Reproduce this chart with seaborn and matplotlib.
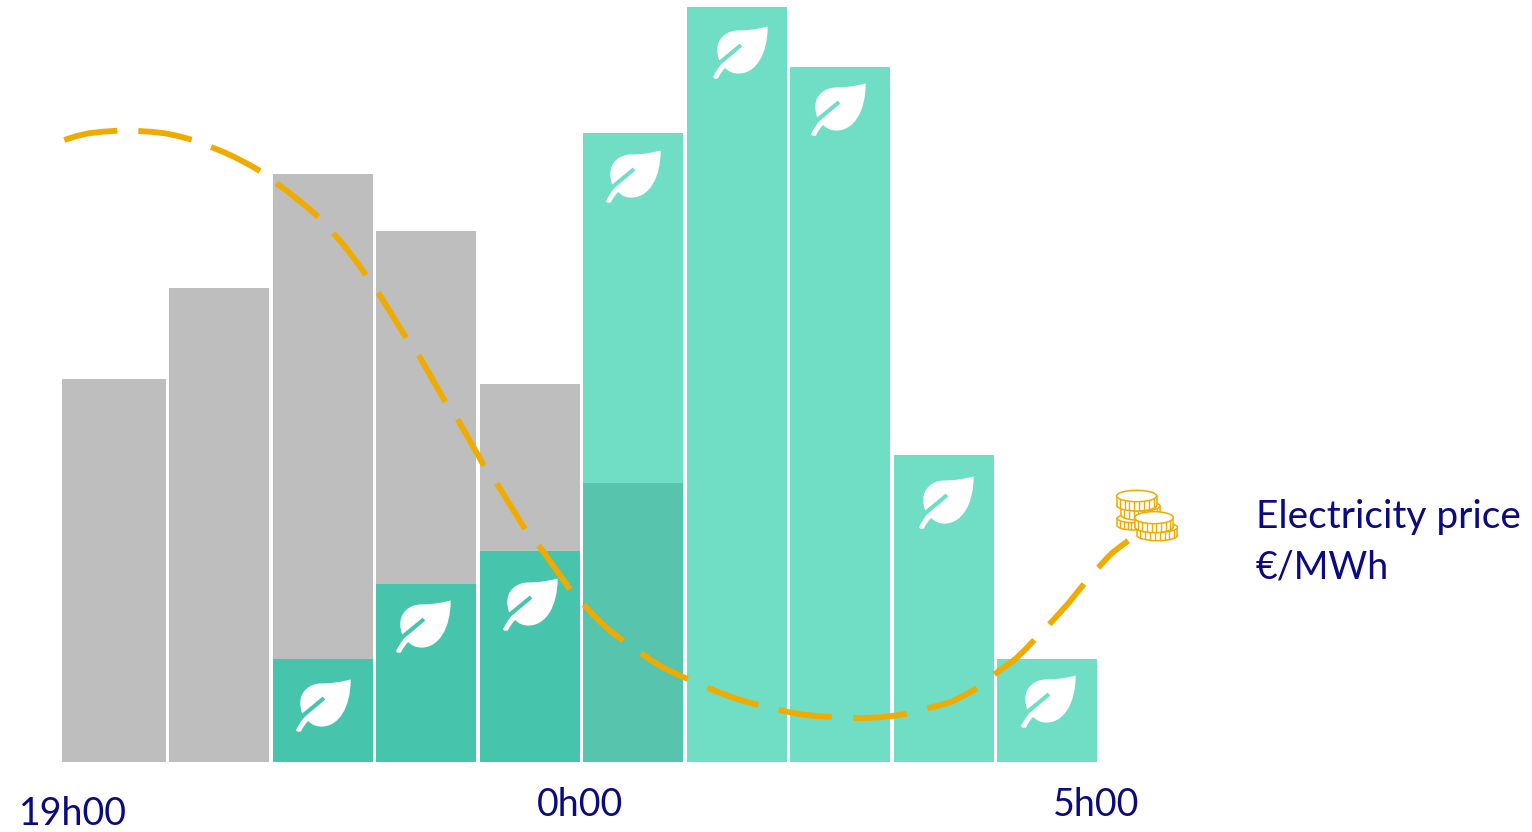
import numpy as np
import pandas as pd
import matplotlib
matplotlib.use("Agg")
import matplotlib.pyplot as plt
from matplotlib.path import Path
from matplotlib.patches import Ellipse, Rectangle
from matplotlib.transforms import Affine2D
import seaborn as sns

# ---- data -------------------------------------------------------------
slot_hours = [0.5, 1.5, 2.5, 3.5, 4.5, 5.5, 6.5, 7.5, 8.5, 9.5]
total_load = [383, 474, 588, 531, 378, 629, 755, 695, 307, 103]
renewable_load = [103, 178, 211, 279]          # slots 2..5, under the cap

tick_hours = [0.087, 4.99, 9.97]
tick_labels = ["19h00", "0h00", "5h00"]

leaf_hours = [2.500, 3.467, 4.507, 5.493, 6.527, 7.483, 8.517, 9.512]
leaf_levels = [57.3, 136, 157.6, 586.5, 710, 653, 260.5, 61.5]

price_hours = [
    [0.003, 0.116, 0.235, 0.377, 0.515],
    [0.718, 0.845, 0.976, 1.106, 1.234],
    [1.421, 1.536, 1.652, 1.773, 1.894],
    [2.052, 2.159, 2.264, 2.362, 2.457],
    [2.602, 2.686, 2.764, 2.841, 2.915],
    [3.037, 3.305],
    [3.427, 3.684],
    [3.804, 4.058],
    [4.181, 4.454],
    [4.587, 4.889],
    [5.024, 5.106, 5.195, 5.295, 5.404],
    [5.575, 5.681, 5.791, 5.908, 6.026],
    [6.216, 6.341, 6.467, 6.586, 6.708],
    [6.906, 7.024, 7.143, 7.280, 7.418],
    [7.626, 7.756, 7.884, 8.012, 8.142],
    [8.341, 8.459, 8.577, 8.698, 8.819],
    [8.989, 9.087, 9.189, 9.283, 9.375],
    [9.520, 9.611, 9.704, 9.778, 9.855],
    [9.993, 10.058, 10.123, 10.203, 10.283],
]
price_levels = [
    [622, 625.8, 628.7, 630.3, 631.3],
    [631, 630.2, 628.7, 625.9, 622.3],
    [615, 610.2, 604.7, 598.2, 591],
    [578.7, 570.7, 562, 553.8, 545],
    [528.7, 519, 508.7, 498.2, 487],
    [469.3, 424.3],
    [406.7, 360.3],
    [342.7, 296.3],
    [278.7, 233],
    [216.7, 172.7],
    [157.3, 147.8, 138.7, 129.6, 121.3],
    [108.7, 101.3, 94.3, 88.4, 83],
    [74.3, 69.1, 64.3, 60.5, 57],
    [52, 49.5, 47.3, 45.9, 45],
    [44, 44.1, 44.7, 46.2, 48.3],
    [53.7, 56.7, 60.3, 66.5, 73.7],
    [87.7, 95, 102.7, 112, 122],
    [137.7, 148, 158.7, 168.2, 178],
    [194.3, 201.7, 208.7, 215.2, 221.3],
]

GREY, TEAL, LIGHT, OVERLAP = "#BEBEBE", "#47C5AC", "#70DDC5", "#57C4AD"
ORANGE, NAVY = "#F0AB00", "#0B0A80"

# ---- figure -----------------------------------------------------------
sns.set_theme(style="white")
plt.rcParams["font.family"] = ["Lato", "DejaVu Sans"]

fig = plt.figure(figsize=(15.32, 8.32), dpi=100, facecolor="white")
ax = fig.add_axes([0, 70 / 832, 1, 762 / 832])

layers = [
    (slot_hours[:5], total_load[:5], GREY),
    (slot_hours[5:], total_load[5:], LIGHT),
    (slot_hours[2:5], renewable_load[:3], TEAL),
    (slot_hours[5:6], renewable_load[3:], OVERLAP),
]
for xs, ys, colour in layers:
    sns.barplot(x=xs, y=ys, native_scale=True, color=colour, width=0.97,
                saturation=1, linewidth=0, errorbar=None, ax=ax)
# the first block starts slightly further left than the regular grid
ax.patches[0].set_x(ax.patches[0].get_x() - 0.035)
ax.patches[0].set_width(ax.patches[0].get_width() + 0.035)

# leaf icon as a custom marker (crop units, y pointing down, then flipped)
lv = [(241, 355),
      (205, 364), (180, 367), (150, 367),
      (115, 368), (88, 392), (88, 425),
      (88, 438), (90, 449), (94, 458),
      (156, 407), (164, 416), (102, 468),
      (92, 478), (82, 494), (75, 509),
      (80, 514), (90, 513),
      (96, 500), (103, 490), (112, 481),
      (122, 492), (136, 498), (152, 498),
      (205, 498), (241, 440), (241, 355),
      (241, 355)]
lc = ([Path.MOVETO] + [Path.CURVE4] * 9 + [Path.LINETO] * 3 + [Path.CURVE4] * 3
      + [Path.LINETO] * 2 + [Path.CURVE4] * 9 + [Path.CLOSEPOLY])
lv = np.array(lv, float)
lv = np.column_stack([lv[:, 0] - 158.5, 434 - lv[:, 1]])
leaf = Path(lv, lc)
sns.scatterplot(x=leaf_hours, y=leaf_levels, marker=leaf, s=1568, color="white",
                linewidth=0, zorder=3, legend=False, ax=ax)

# dashed price curve: every dash is one unit of the line
price = pd.DataFrame({
    "hour": np.concatenate(price_hours),
    "price": np.concatenate(price_levels),
    "dash": np.repeat(np.arange(len(price_hours)), [len(d) for d in price_hours]),
})
sns.lineplot(data=price, x="hour", y="price", units="dash", estimator=None,
             sort=False, color=ORANGE, linewidth=4.2, solid_capstyle="butt",
             solid_joinstyle="round", zorder=4, legend=False, ax=ax)

# coin icon, drawn in zoomed-crop units
coin_tf = Affine2D().scale(1 / 3, -1 / 3).translate(1090, 832 - 470)
coins = [(130, 145, 48, 13, 22), (152, 108, 58, 15, 28), (140, 78, 60, 17, 28),
         (202, 172, 60, 15, 25), (192, 143, 58, 18, 27)]
for z, (cx, cy, rx, ry, h) in enumerate(coins):
    zo = 5 + z
    ax.add_patch(Ellipse((cx, cy + h), 2 * rx, 2 * ry, fc="white", ec=ORANGE, lw=1.1,
                         transform=coin_tf, zorder=zo))
    ax.add_patch(Rectangle((cx - rx, cy), 2 * rx, h, fc="white", ec="none",
                           transform=coin_tf, zorder=zo))
    for sx in (-rx, rx):
        ax.plot([cx + sx, cx + sx], [cy, cy + h], color=ORANGE, lw=1.1,
                transform=coin_tf, zorder=zo, scalex=False, scaley=False)
    for t in np.linspace(-0.85, 0.85, 8):
        off = ry * np.sqrt(1 - t * t)
        ax.plot([cx + t * rx] * 2, [cy + off, cy + off + h - 2], color=ORANGE, lw=1.0,
                transform=coin_tf, zorder=zo, scalex=False, scaley=False)
    ax.add_patch(Ellipse((cx, cy), 2 * rx, 2 * ry, fc="white", ec=ORANGE, lw=1.1,
                         transform=coin_tf, zorder=zo))

# axes
ax.set_xlim(-64 / 103.5, (1532 - 64) / 103.5)
ax.set_ylim(0, 762)
ax.set_xlabel("")
ax.set_ylabel("")
ax.set_yticks([])
ax.set_xticks(tick_hours)
ax.set_xticklabels(tick_labels, fontsize=27, color=NAVY)
ax.tick_params(axis="x", length=0, pad=18)
ax.get_xticklabels()[0].set_y(-0.012)
sns.despine(ax=ax, left=True, right=True, top=True, bottom=True)
ax.patch.set_alpha(0)

ax.text((1256 - 64) / 103.5, 762 - 517, "Electricity price", fontsize=28, color=NAVY,
        ha="left", va="center")
ax.text((1256 - 64) / 103.5, 762 - 568, "€/MWh", fontsize=27, color=NAVY,
        ha="left", va="center")

fig.savefig("out.png", dpi=100, facecolor="white")
